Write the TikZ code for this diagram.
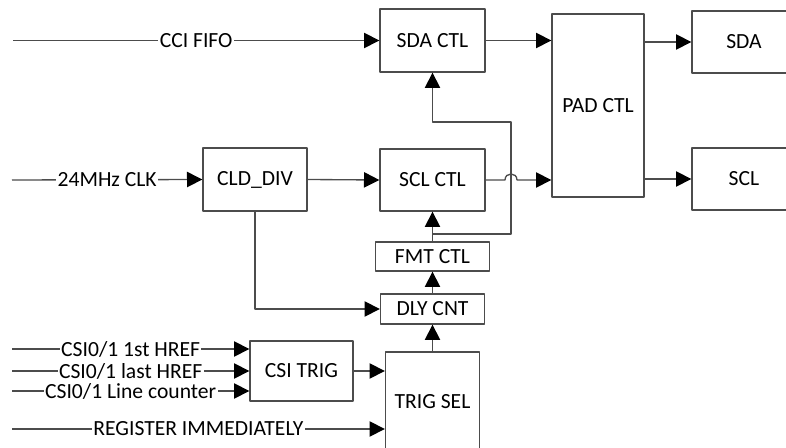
\documentclass[tikz,border=0pt]{standalone}
\usepackage{fontspec}
\setmainfont{Carlito}
\usetikzlibrary{arrows.meta}

\begin{document}
\begin{tikzpicture}[x=0.75pt, y=-0.75pt, font=\fontsize{16.2}{19}\selectfont,
  line join=round, >={Triangle[length=11.5pt,width=11.5pt,color=black]},
  blk/.style={draw=black!70, line width=1pt, fill=white, inner sep=0pt, align=center},
  wire/.style={draw=black!70, line width=1pt},
  lbl/.style={fill=white, inner sep=1pt}]

\useasboundingbox (0,0) rectangle (786,448);
\clip (0,0) rectangle (786,448);

\node[blk, minimum width=78.75pt, minimum height=47.25pt] (sdactl) at (432.5,40.5) {SDA CTL};
\node[blk, minimum width=78.75pt, minimum height=46.5pt] (sclctl) at (432.5,180) {SCL CTL};
\node[blk, minimum width=69pt, minimum height=137.25pt] (padctl) at (598,105.5) {PAD CTL};
\node[blk, minimum width=78pt, minimum height=46.5pt] (sda) at (744,42) {SDA};
\node[blk, minimum width=78pt, minimum height=46.5pt] (scl) at (744,179) {SCL};
\node[blk, minimum width=78pt, minimum height=47.25pt] (clddiv) at (255,179.5) {CLD\_DIV};
\node[blk, minimum width=85.5pt, minimum height=21.75pt] (fmtctl) at (432.5,256.5) {FMT CTL};
\node[blk, minimum width=78pt, minimum height=22.5pt] (dlycnt) at (432.5,309) {DLY CNT};
\node[blk, minimum width=70.5pt, minimum height=75pt] (trigsel) at (432.5,402) {TRIG SEL};
\node[blk, minimum width=77.25pt, minimum height=45pt] (csitrig) at (301.5,371) {CSI TRIG};

\coordinate (fifo) at (13,40.5);
\coordinate (clk) at (12,180);
\coordinate (in1) at (12,349);
\coordinate (in2) at (12,371);
\coordinate (in3) at (12,391);
\coordinate (reg) at (12,429);
\coordinate (br) at (432.5,234);
\coordinate (jog) at (511,122);

\draw[wire,->] (fifo) -- node[lbl]{CCI FIFO} (sdactl.west);
\draw[wire,->] (clk) -- node[lbl]{24MHz CLK} (clddiv.west);
\draw[wire,->] (clddiv.east) -- (sclctl.west);
\draw[wire,->] (clddiv.south) |- (dlycnt.west);
\draw[wire,->] (sdactl.east) -- (sdactl.east -| padctl.west);
\draw[wire,->] (sclctl.east) -- (505,180) .. controls (505,172) and (517,172) .. (517,180) -- (sclctl.east -| padctl.west);
\draw[wire,->] (padctl.east |- sda) -- (sda.west);
\draw[wire,->] (padctl.east |- scl) -- (scl.west);
\draw[wire,->] (trigsel.north) -- (dlycnt.south);
\draw[wire,->] (dlycnt.north) -- (fmtctl.south);
\draw[wire,->] (fmtctl.north) -- (sclctl.south);
\draw[wire,->] (br) -| (jog) -| (sdactl.south);
\draw[wire,->] (in1) -- node[lbl]{CSI0/1 1st HREF} (in1 -| csitrig.west);
\draw[wire,->] (in2) -- node[lbl]{CSI0/1 last HREF} (in2 -| csitrig.west);
\draw[wire,->] (in3) -- node[lbl]{CSI0/1 Line counter} (in3 -| csitrig.west);
\draw[wire,->] (csitrig.east) -- (csitrig.east -| trigsel.west);
\draw[wire,->] (reg) -- node[lbl]{REGISTER IMMEDIATELY} (reg -| trigsel.west);
\end{tikzpicture}
\end{document}
